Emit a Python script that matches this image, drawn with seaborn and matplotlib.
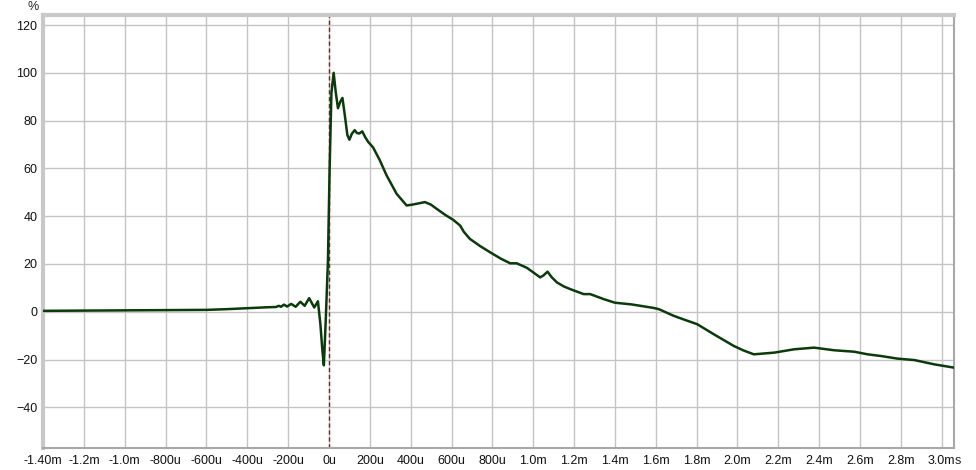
import numpy as np
import pandas as pd
import matplotlib
matplotlib.use("Agg")
import matplotlib.pyplot as plt
import seaborn as sns

# step response, time in ms, amplitude in %
time_ms = [-1.40, -1.2, -1.0, -0.8, -0.6, -0.5, -0.4, -0.3, -0.26, -0.245, -0.235,
           -0.22, -0.205, -0.185, -0.163, -0.14, -0.119, -0.097, -0.072, -0.054,
           -0.042, -0.032, -0.025, -0.016, -0.005, 0.003, 0.012, 0.023, 0.033,
           0.044, 0.056, 0.066, 0.078, 0.090, 0.100, 0.112, 0.126, 0.137, 0.148,
           0.163, 0.178, 0.192, 0.216, 0.249, 0.282, 0.331, 0.380, 0.405, 0.429,
           0.470, 0.50, 0.527, 0.57, 0.608, 0.642, 0.66, 0.690, 0.74, 0.789, 0.84,
           0.887, 0.919, 0.969, 1.00, 1.034, 1.050, 1.070, 1.09, 1.116, 1.15, 1.181,
           1.247, 1.279, 1.345, 1.40, 1.48, 1.525, 1.59, 1.615, 1.688, 1.74, 1.803,
           1.884, 1.982, 2.03, 2.080, 2.179, 2.277, 2.375, 2.473, 2.571, 2.637,
           2.702, 2.784, 2.866, 2.964, 3.062]
step_pct = [0.4, 0.5, 0.6, 0.7, 0.8, 1.1, 1.5, 1.9, 2.0, 2.5, 2.1,
            3.0, 2.2, 3.3, 2.1, 4.2, 2.5, 5.7, 1.8, 4.4,
            -5.2, -16.4, -22.4, -4.0, 21.4, 59.0, 91.6, 100.0, 92.0,
            85.2, 88.0, 89.5, 82.0, 74.0, 72.0, 74.5, 76.0, 74.8, 74.6,
            75.5, 73.0, 71.1, 68.8, 63.4, 57.1, 49.4, 44.5, 44.8, 45.2,
            45.9, 44.8, 43.1, 40.5, 38.5, 36.1, 33.5, 30.5, 27.5, 24.9, 22.3,
            20.3, 20.3, 18.4, 16.5, 14.4, 15.2, 16.8, 14.5, 12.3, 10.6, 9.5,
            7.4, 7.4, 5.3, 3.8, 3.1, 2.5, 1.6, 1.1, -1.7, -3.3, -5.2,
            -9.4, -14.3, -16.2, -17.8, -17.1, -15.7, -15.0, -16.1, -16.7, -17.8,
            -18.5, -19.6, -20.2, -22.0, -23.4]

x_ticks = [-1.4, -1.2, -1.0, -0.8, -0.6, -0.4, -0.2, 0.0, 0.2, 0.4, 0.6, 0.8,
           1.0, 1.2, 1.4, 1.6, 1.8, 2.0, 2.2, 2.4, 2.6, 2.8, 3.0]
x_labels = ["-1.40m", "-1.2m", "-1.0m", "-800u", "-600u", "-400u", "-200u", "0u",
            "200u", "400u", "600u", "800u", "1.0m", "1.2m", "1.4m", "1.6m", "1.8m",
            "2.0m", "2.2m", "2.4m", "2.6m", "2.8m", "3.0m"]
y_ticks = [-40, -20, 0, 20, 40, 60, 80, 100, 120]

df = pd.DataFrame({"t": time_ms, "v": step_pct})

sns.set_style("white")
plt.rcParams["font.family"] = ["Liberation Sans", "DejaVu Sans"]
plt.rcParams["font.size"] = 9

fig = plt.figure(figsize=(9.76, 4.70), dpi=100)
ax = fig.add_axes([43 / 976, 1 - 448 / 470, (954 - 43) / 976, (448 - 15) / 470])

ax.axvline(0, color="#a01010", lw=1.0, ls=(0, (3, 2)), zorder=2)
sns.lineplot(data=df, x="t", y="v", ax=ax, color="#0b3a0b", lw=1.8,
             sort=False, zorder=3)

ax.set_xlim(-1.4, 3.06)
ax.set_ylim(-57, 124.2)
ax.set_xticks(x_ticks)
ax.set_xticklabels(x_labels)
ax.set_yticks(y_ticks)
ax.set_xlabel("")
ax.set_ylabel("")
ax.grid(True, color="#c4c4c4", lw=1.0)
ax.tick_params(length=0, colors="#111111", labelsize=9)
ax.tick_params(axis="x", pad=5)
ax.tick_params(axis="y", pad=4)

for side in ["left", "top"]:
    ax.spines[side].set_color("#c8c8c8")
    ax.spines[side].set_linewidth(3)
for side in ["right", "bottom"]:
    ax.spines[side].set_color("#a8a8a8")
    ax.spines[side].set_linewidth(1.5)

fig.text(33 / 976, 1 - 7 / 470, "%", ha="center", va="center", fontsize=9)
ax.annotate("s", xy=(3.0, 0), xycoords=("data", "axes fraction"),
            xytext=(9.5, -5), textcoords="offset points",
            ha="left", va="top", fontsize=9)

fig.savefig("out.png", dpi=100, facecolor="white")
